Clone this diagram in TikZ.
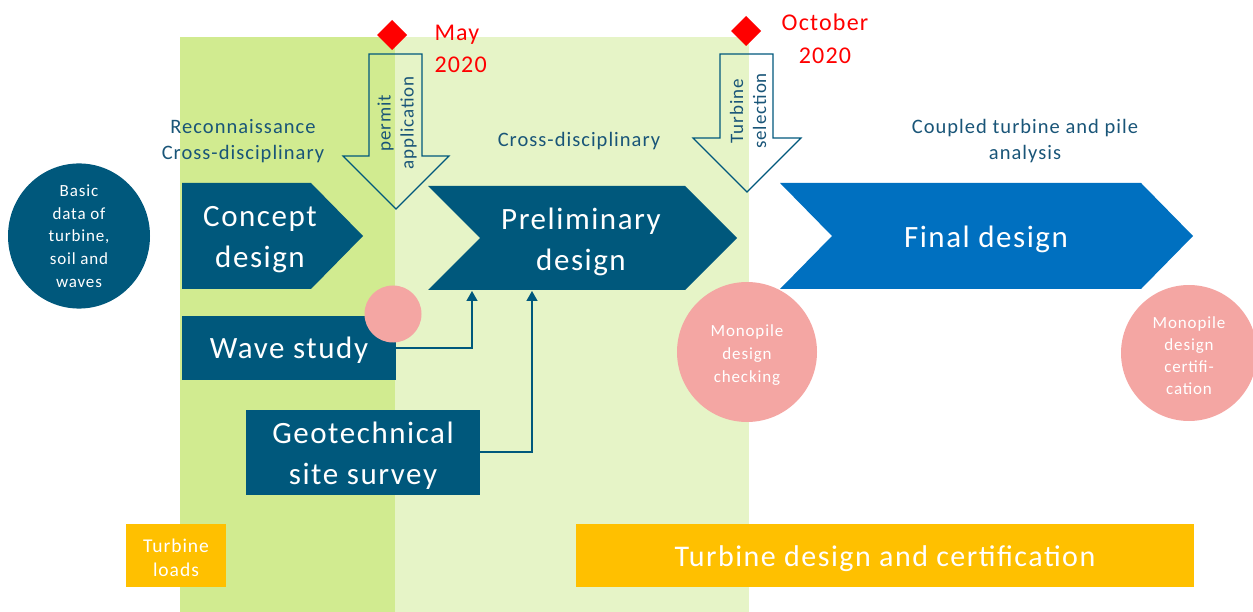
\documentclass[tikz,border=0pt]{standalone}
\usepackage{fontspec}
\setmainfont{Carlito}[LetterSpace=5]
\usetikzlibrary{arrows.meta,shapes.geometric}

\definecolor{deepblue}{RGB}{0,88,124}
\definecolor{labelblue}{RGB}{25,85,120}
\definecolor{finalblue}{RGB}{0,112,192}
\definecolor{rose}{RGB}{244,166,163}
\definecolor{amber}{RGB}{255,192,0}
\definecolor{phaseA}{RGB}{209,235,144}
\definecolor{phaseB}{RGB}{230,244,199}
\definecolor{milestone}{RGB}{255,0,0}

\tikzset{
  fs/.style n args={2}{font=\fontsize{#1}{#2}\selectfont},
  chevron/.style={fill=deepblue, draw=none},
  phasetitle/.style={text=white, align=center, fs={31}{41}},
  boxnode/.style={fill=deepblue, text=white, align=center, inner sep=0pt, fs={31}{41}},
  bubble/.style={circle, fill=rose, text=white, align=center, inner sep=0pt, fs={17}{22.5}},
  loadbox/.style={fill=amber, text=white, align=center, inner sep=0pt},
  hint/.style={text=labelblue, align=center, fs={20.5}{26}},
  gatearrow/.style={draw=deepblue, line width=1.1pt, line join=miter},
  gatetext/.style={text=labelblue, rotate=90, align=center, fs={19}{23}},
  datemark/.style={fill=milestone, draw=none},
  datetext/.style={text=milestone, align=center, fs={24}{32.5}},
  feed/.style={draw=deepblue, line width=1.5pt, -{Triangle[length=10pt,width=11pt]}}
}

\begin{document}
\begin{tikzpicture}[x=1pt,y=-1pt]
\useasboundingbox (0,0) rectangle (1253,612);

% project phases as coloured bands
\fill[phaseA] (180,37) rectangle (395,612);
\fill[phaseB] (395,37) rectangle (749,612);

% milestones
\fill[datemark] (392,20) -- (407,35) -- (392,50) -- (377,35) -- cycle;
\node[datetext, anchor=west, align=left] (may) at (431,49) {May\\2020};
\fill[datemark] (746,16) -- (761,31) -- (746,46) -- (731,31) -- cycle;
\node[datetext] (oct) at (825,39) {October\\2020};

% gate arrows
\draw[gatearrow] (369,54) -- (422,54) -- (422,156) -- (449,156) -- (396,209)
  -- (343,156) -- (369,156) -- cycle;
\node[gatetext] (permit) at (397,123) {permit\\application};
\draw[gatearrow] (720,54) -- (773,54) -- (773,138) -- (801,138) -- (747,192)
  -- (693,138) -- (720,138) -- cycle;
\node[gatetext] (turbsel) at (748,111) {Turbine\\selection};

% phase captions
\node[hint] (recon) at (243,141) {Reconnaissance\\Cross-disciplinary};
\node[hint] (cross) at (579,141) {Cross-disciplinary};
\node[hint] (coupled) at (1025,141) {Coupled turbine and pile\\analysis};

% input data
\node[ellipse, fill=deepblue, text=white, align=center, minimum width=142pt,
  minimum height=134pt, inner sep=0pt, fs={17}{22.7}] (basic) at (79,236)
  {Basic\\data of\\turbine,\\soil and\\waves};

% design phases
\path[chevron] (182,183) -- (311,183) -- (363,236) -- (311,289) -- (182,289) -- cycle;
\node[phasetitle] (concept) at (260,240) {Concept\\design};
\path[chevron] (428,186) -- (685,186) -- (737,238) -- (685,290) -- (428,290)
  -- (480,238) -- cycle;
\node[phasetitle] (prelim) at (581,242) {Preliminary\\design};
\path[chevron, fill=finalblue] (780,183) -- (1141,183) -- (1193,236) -- (1141,289)
  -- (780,289) -- (832,236) -- cycle;
\node[phasetitle] (final) at (986,239) {Final design};
\coordinate (prelimA) at (472,291);
\coordinate (prelimB) at (532,291);

% studies feeding the preliminary design
\node[boxnode, minimum width=214pt, minimum height=64pt] (wave) at (289,348) {};
\node[text=white, fs={31}{41}] (wavetext) at (289,350) {Wave study};
\node[boxnode, minimum width=234pt, minimum height=85pt] (geo) at (363,452) {};
\node[text=white, align=center, fs={31}{41}] (geotext) at (363,456)
  {Geotechnical\\site survey};
\draw[feed] (wave.east) -| (prelimA);
\draw[feed] (geo.east) -| (prelimB);

% reviews
\node[bubble, minimum size=57pt] (review) at (393,314) {};
\node[bubble, minimum size=140pt] (check) at (747,352) {};
\node[text=white, align=center, fs={17}{23}] (checktext) at (747,355)
  {Monopile\\design\\checking};
\node[bubble, minimum size=136pt] (cert) at (1189,353) {};
\node[text=white, align=center, fs={17}{22}] (certtext) at (1189,356)
  {Monopile\\design\\certifi-\\cation};

% turbine supplier input
\node[loadbox, minimum width=100pt, minimum height=63pt] (loads) at (176,555) {};
\node[text=white, align=center, fs={19.5}{24}] (loadstext) at (176,558)
  {Turbine\\loads};
\node[loadbox, minimum width=618pt, minimum height=63pt] (tdc) at (885,555) {};
\node[text=white, fs={30}{34}] (tdctext) at (885,559)
  {Turbine design and certification};
\end{tikzpicture}
\end{document}
